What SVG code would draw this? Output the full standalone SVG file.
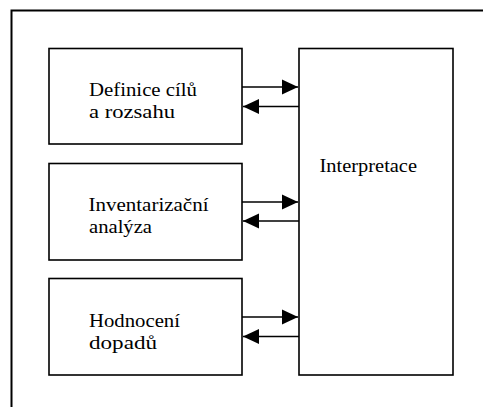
<svg xmlns="http://www.w3.org/2000/svg" width="483" height="407" viewBox="0 0 483 407">
<style>
.box{fill:#fff;stroke:#000;stroke-width:1.6}
.con{stroke:#000;stroke-width:1.6;fill:none}
text{font-family:'Liberation Serif','Times New Roman','DejaVu Serif',serif;font-size:19.5px;fill:#000}
</style>
<defs>
<marker id="ah" markerUnits="userSpaceOnUse" markerWidth="16" markerHeight="16" viewBox="0 0 16 16" refX="16" refY="8" orient="auto">
<path d="M0,0.5 L16,8 L0,15.5 Z" fill="#000"/>
</marker>
</defs>
<rect width="483" height="407" fill="#fff"/>
<path id="frame" d="M11.5,410 V10.5 H490" fill="none" stroke="#000" stroke-width="2"/>
<g id="n1"><rect class="box" x="49" y="48.5" width="193" height="95.5"/><text x="89" y="96" textLength="108" lengthAdjust="spacingAndGlyphs">Definice cílů</text><text x="89" y="118" textLength="86" lengthAdjust="spacingAndGlyphs">a rozsahu</text></g>
<g id="n2"><rect class="box" x="49" y="163.5" width="193" height="96.5"/><text x="88.5" y="211" textLength="120" lengthAdjust="spacingAndGlyphs">Inventarizační</text><text x="89" y="233" textLength="63" lengthAdjust="spacingAndGlyphs">analýza</text></g>
<g id="n3"><rect class="box" x="49" y="278.5" width="193" height="96.5"/><text x="89" y="327" textLength="91" lengthAdjust="spacingAndGlyphs">Hodnocení</text><text x="89" y="349" textLength="68" lengthAdjust="spacingAndGlyphs">dopadů</text></g>
<g id="n4"><rect class="box" x="299" y="48.5" width="154" height="326.5"/><text x="319.5" y="172" textLength="97.5" lengthAdjust="spacingAndGlyphs">Interpretace</text></g>
<g id="connectors">
<line class="con" x1="242" y1="87" x2="298" y2="87" marker-end="url(#ah)"/>
<line class="con" x1="299" y1="106.5" x2="243" y2="106.5" marker-end="url(#ah)"/>
<line class="con" x1="242" y1="202" x2="298" y2="202" marker-end="url(#ah)"/>
<line class="con" x1="299" y1="221" x2="243" y2="221" marker-end="url(#ah)"/>
<line class="con" x1="242" y1="317" x2="298" y2="317" marker-end="url(#ah)"/>
<line class="con" x1="299" y1="336.5" x2="243" y2="336.5" marker-end="url(#ah)"/>
</g>
</svg>
